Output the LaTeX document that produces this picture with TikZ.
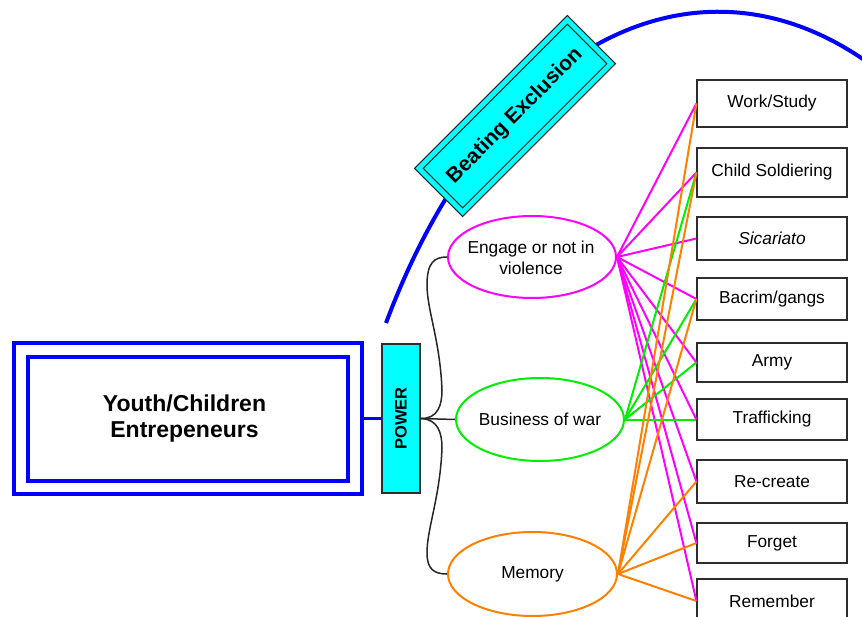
\documentclass[tikz,border=0pt]{standalone}
\usepackage{fontspec}
\usepackage{graphicx}
\setmainfont{Liberation Sans}
\usetikzlibrary{shapes.geometric}

\definecolor{boxcyan}{RGB}{0,255,255}
\definecolor{frameblue}{RGB}{0,0,255}
\definecolor{violmag}{RGB}{255,0,255}
\definecolor{wargreen}{RGB}{0,238,0}
\definecolor{memorange}{RGB}{255,128,0}
\definecolor{edgegray}{RGB}{45,45,45}

\begin{document}
\begin{tikzpicture}[x=1pt,y=-1pt,
  bodyfont/.style={font=\fontsize{17.3}{21}\selectfont},
  item/.style={rectangle, draw=edgegray, line width=1.2pt, fill=white,
    minimum width=150pt, inner sep=0pt, bodyfont},
  topic/.style={ellipse, draw, line width=2pt, fill=white, inner sep=0pt,
    minimum width=168pt, minimum height=82pt},
  topictext/.style={align=center, inner sep=0pt, bodyfont},
  bluebox/.style={rectangle, draw=frameblue, line width=3.2pt, inner sep=0pt},
  link/.style={line width=2pt},
  bracket/.style={draw=black!85, line width=1.5pt},
]
\useasboundingbox (0,0) rectangle (862,617);

% large blue arc behind the tilted label
\draw[frameblue, line width=4pt] (386,323)
  arc[start angle=212.8, end angle=300, x radius=395, y radius=679];

% tilted label on the arc
\node[rectangle, rotate=45, draw=black!85, line width=1.2pt,
  double=boxcyan, double distance=4.8pt, fill=boxcyan,
  minimum width=210pt, minimum height=62pt, inner sep=0pt,
  font=\bfseries\fontsize{21}{24}\selectfont] (beat) at (515,116) {Beating Exclusion};

% main double frame
\node[bluebox, minimum width=348pt, minimum height=151pt] (outer) at (188,418.5) {};
\node[bluebox, minimum width=320pt, minimum height=124pt] (inner) at (188,419) {};
\node[align=center, inner sep=0pt,
  font=\bfseries\fontsize{23}{25.5}\selectfont] (title) at (184.5,418.5)
  {Youth/Children\\Entrepeneurs};

% POWER bar
\node[rectangle, draw=edgegray, line width=1.2pt, fill=boxcyan,
  minimum width=38pt, minimum height=149pt, inner sep=0pt,
  font=\bfseries\fontsize{16.5}{18}\selectfont] (power) at (401,418.5)
  {\rotatebox{90}{POWER}};

\draw[frameblue, line width=3.2pt] (outer.east) -- (power.west);

% three themes
\node[topic, draw=violmag] (eng) at (532,257) {};
\node[topictext] (engtxt) at (531,257.5) {Engage or not in\\violence};
\node[topic, draw=wargreen, minimum height=83pt] (biz) at (540,419.5) {};
\node[topictext] (biztxt) at (540,419.5) {Business of war};
\node[topic, draw=memorange, minimum width=169pt, minimum height=84pt] (mem) at (532.5,574) {};
\node[topictext] (memtxt) at (532.5,574) {Memory};

% bracket joining POWER to the themes
\draw[bracket] (power.east) .. controls (438,419) and (442,405) .. (442,390)
  .. controls (440,340) and (427,310) .. (427,285)
  .. controls (427,263) and (434,257) .. (eng.west);
\draw[bracket] (power.east) -- (biz.west);
\draw[bracket] (power.east) .. controls (438,419) and (442,433) .. (442,448)
  .. controls (440,498) and (427,528) .. (427,553)
  .. controls (427,569) and (434,574) .. (mem.west);

% outcome boxes
\node[item, minimum height=47pt] (work) at (772,103.5) {Work/Study};
\node[item, minimum height=49pt] (child) at (772,172.5) {Child Soldiering};
\node[item, minimum height=43pt] (sic) at (772,238.5) {\itshape Sicariato};
\node[item, minimum height=42pt] (bac) at (772,299) {Bacrim/gangs};
\node[item, minimum height=39pt] (army) at (772,362.5) {Army};
\node[item, minimum height=41pt] (traf) at (772,419.5) {Trafficking};
\node[item, minimum height=43pt] (recr) at (772,481.5) {Re-create};
\node[item, minimum height=40pt] (forg) at (772,543) {Forget};
\node[item, minimum height=44pt] (remb) at (772,601) {Remember};

% links from themes to outcomes
\foreach \b in {work,child,sic,bac,army,traf,recr,forg,remb}
  \draw[link, violmag] (eng.east) -- (\b.west);
\foreach \b in {child,bac,army,traf}
  \draw[link, wargreen] (biz.east) -- (\b.west);
\foreach \b in {work,child,bac,recr,forg,remb}
  \draw[link, memorange] (mem.east) -- (\b.west);
\end{tikzpicture}
\end{document}
